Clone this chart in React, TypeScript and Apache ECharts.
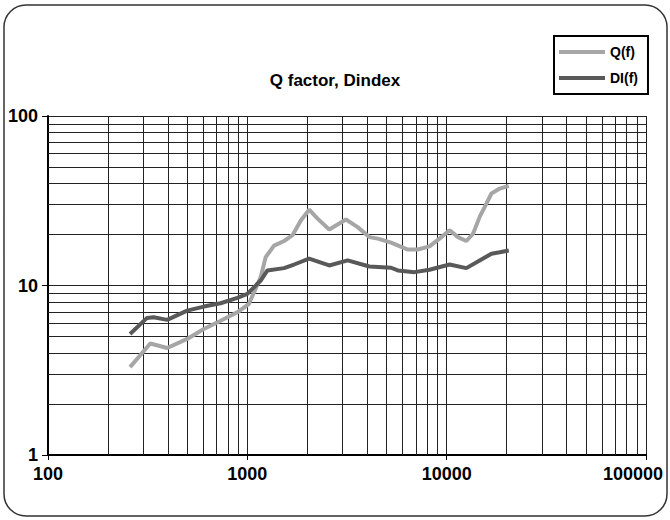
import React, { useEffect, useRef } from 'react';
import * as echarts from 'echarts';

const xTickLabels = ['100', '1000', '10000', '100000'];
const yTickLabels = ['1', '10', '100'];

const qFreq = [258, 326, 396, 499, 605, 734, 891, 1019, 1167, 1236, 1361, 1529, 1685, 1855, 2042, 2250, 2575, 3124, 3577, 4093, 4512, 5263, 6387, 7170, 8204, 9209, 10342, 11400, 12550, 13565, 14640, 15825, 16770, 18460, 20490];
const qVals = [3.3, 4.55, 4.28, 4.84, 5.54, 6.2, 6.95, 7.8, 11.2, 14.7, 17.2, 18.3, 19.8, 24.2, 28.0, 24.8, 21.4, 24.5, 22.1, 19.3, 18.9, 17.9, 16.3, 16.3, 17.0, 18.9, 21.2, 19.3, 18.3, 20.2, 25.4, 30.4, 34.9, 37.3, 38.7];

const diFreq = [258, 314, 339, 396, 499, 605, 734, 891, 1000, 1167, 1261, 1529, 1716, 2042, 2575, 3186, 4093, 5263, 5689, 6895, 8204, 10342, 12550, 14640, 16770, 18460, 20490];
const diVals = [5.18, 6.44, 6.49, 6.27, 7.11, 7.51, 7.86, 8.46, 8.93, 10.7, 12.27, 12.66, 13.3, 14.39, 13.13, 14.06, 12.95, 12.73, 12.27, 11.99, 12.39, 13.3, 12.66, 14.06, 15.4, 15.7, 16.1];

const xMinorGrid = [200, 300, 400, 500, 600, 700, 800, 900, 2000, 3000, 4000, 5000, 6000, 7000, 8000, 9000, 20000, 30000, 40000, 50000, 60000, 70000, 80000, 90000];
const yMinorGrid = [2, 3, 4, 5, 6, 7, 8, 9, 20, 30, 40, 50, 60, 70, 80, 90];

const FONT = '"Liberation Sans", Arial, sans-serif';

export default function App() {
  const ref = useRef<HTMLDivElement>(null);
  useEffect(() => {
    const chart = echarts.init(ref.current!, null, { renderer: 'svg' });
    const gridColor = '#222';
    chart.setOption({
      animation: false,
      backgroundColor: '#fff',
      textStyle: { fontFamily: FONT },
      title: {
        text: 'Q factor, Dindex',
        left: 'center',
        top: 72,
        padding: 0,
        textStyle: { fontSize: 17, fontWeight: 'bold', color: '#000', fontFamily: FONT },
      },
      legend: {
        data: ['Q(f)', 'DI(f)'],
        orient: 'vertical',
        left: 554,
        top: 36,
        icon: 'rect',
        itemWidth: 46,
        itemHeight: 4,
        itemGap: 12,
        itemTextGap: 4,
        padding: [9, 10, 9, 5],
        borderColor: '#000',
        borderWidth: 2,
        textStyle: { fontSize: 14, fontWeight: 'bold', color: '#000', fontFamily: FONT },
      },
      grid: { left: 48, right: 24, top: 116, bottom: 65 },
      xAxis: {
        type: 'log',
        logBase: 10,
        min: 100,
        max: 100000,
        axisLine: { show: true, lineStyle: { color: '#000', width: 2 } },
        axisTick: { show: true, length: 5, lineStyle: { color: '#000', width: 1 } },
        axisLabel: {
          margin: 10,
          color: '#000',
          fontSize: 18,
          fontWeight: 'bold',
          fontFamily: FONT,
          formatter: (_v: number, i: number) =>
            i === xTickLabels.length - 1 ? '{r|' + xTickLabels[i] + '}' : xTickLabels[i],
          rich: {
            r: { fontSize: 18, fontWeight: 'bold', color: '#000', fontFamily: FONT, padding: [0, 26, 0, 0] },
          },
        },
        splitLine: { show: true, lineStyle: { color: gridColor, width: 1 } },
      },
      yAxis: {
        type: 'log',
        logBase: 10,
        min: 1,
        max: 100,
        axisLine: { show: true, lineStyle: { color: '#000', width: 2 } },
        axisTick: { show: true, length: 6, lineStyle: { color: '#000', width: 1 } },
        axisLabel: {
          margin: 10,
          color: '#000',
          fontSize: 18,
          fontWeight: 'bold',
          fontFamily: FONT,
          formatter: (_v: number, i: number) => yTickLabels[i],
        },
        splitLine: { show: true, lineStyle: { color: gridColor, width: 1 } },
      },
      graphic: [
        {
          type: 'rect',
          silent: true,
          shape: { x: 4, y: 5, width: 663, height: 511, r: 22 },
          style: { fill: 'none', stroke: '#333', lineWidth: 1.5 },
        },
      ],
      series: [
        {
          type: 'line',
          name: 'grid',
          data: [],
          silent: true,
          z: 1,
          markLine: {
            silent: true,
            z: 1,
            symbol: ['none', 'none'],
            label: { show: false },
            emphasis: { disabled: true },
            animation: false,
            lineStyle: { color: gridColor, width: 1, type: 'solid' },
            data: [
              ...xMinorGrid.map((v) => ({ xAxis: v })),
              ...yMinorGrid.map((v) => ({ yAxis: v })),
            ],
          },
        },
        {
          name: 'Q(f)',
          type: 'line',
          z: 3,
          data: qFreq.map((f, i) => [f, qVals[i]]),
          symbol: 'none',
          showSymbol: false,
          lineStyle: { color: '#a6a6a6', width: 4 },
          itemStyle: { color: '#a6a6a6' },
        },
        {
          name: 'DI(f)',
          type: 'line',
          z: 4,
          data: diFreq.map((f, i) => [f, diVals[i]]),
          symbol: 'none',
          showSymbol: false,
          lineStyle: { color: '#595959', width: 4 },
          itemStyle: { color: '#595959' },
        },
      ],
    });
    return () => chart.dispose();
  }, []);
  return (
    <div
      ref={ref}
      style={{ position: 'absolute', left: 0, top: 0, width: 670, height: 520, background: '#fff' }}
    />
  );
}
